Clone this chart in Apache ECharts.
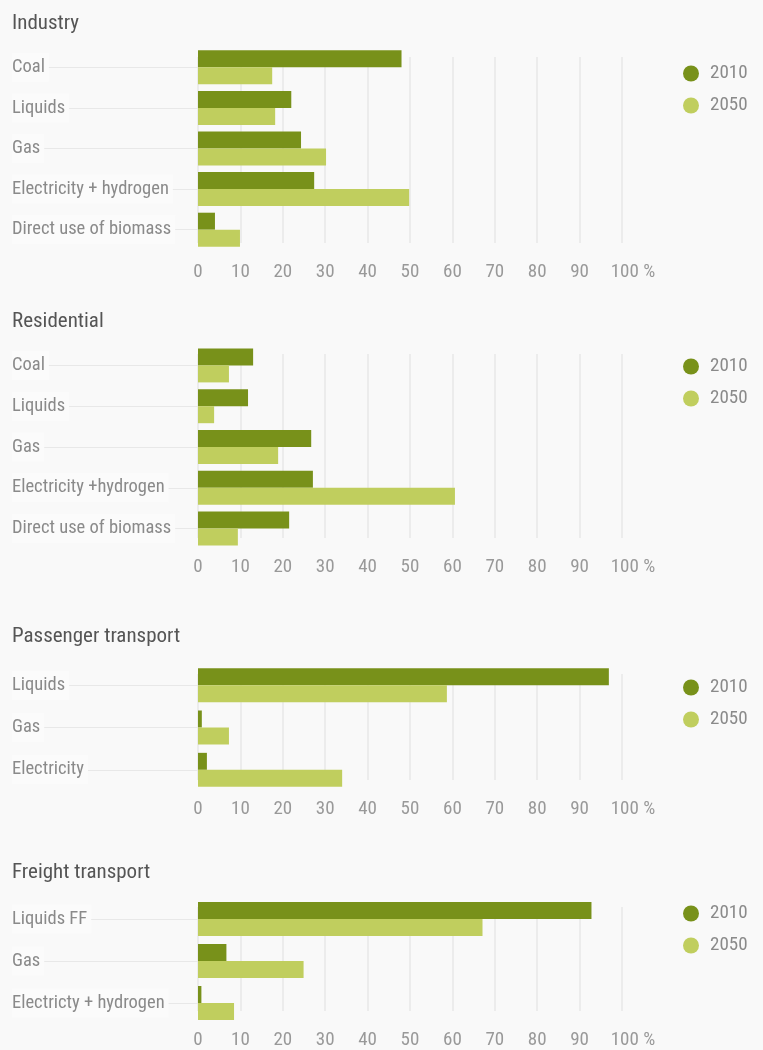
<!DOCTYPE html>
<html>
<head>
<meta charset="utf-8">
<script src="https://cdn.jsdelivr.net/npm/echarts@6/dist/echarts.min.js"></script>
<style>
html,body{margin:0;padding:0;background:#f9f9f9;}
#chart{width:763px;height:1050px;}
</style>
</head>
<body>
<div id="chart"></div>
<script>
const seriesNames = ['2010', '2050'];
const panelTitles = ['Industry', 'Residential', 'Passenger transport', 'Freight transport'];

const industryCats = ['Coal', 'Liquids', 'Gas', 'Electricity + hydrogen', 'Direct use of biomass'];
const industry2010 = [48, 22, 24.3, 27.4, 4];
const industry2050 = [17.5, 18.2, 30.2, 49.8, 9.9];

const residentialCats = ['Coal', 'Liquids', 'Gas', 'Electricity +hydrogen', 'Direct use of biomass'];
const residential2010 = [13, 11.8, 26.7, 27.1, 21.5];
const residential2050 = [7.3, 3.8, 18.9, 60.6, 9.4];

const passengerCats = ['Liquids', 'Gas', 'Electricity'];
const passenger2010 = [96.9, 0.9, 2.1];
const passenger2050 = [58.7, 7.3, 34];

const freightCats = ['Liquids FF', 'Gas', 'Electricty + hydrogen'];
const freight2010 = [92.8, 6.7, 0.8];
const freight2050 = [67.1, 24.9, 8.5];

const xMin = 0, xMax = 100, xStep = 10;

const panelData = [
  {cats: industryCats, a: industry2010, b: industry2050},
  {cats: residentialCats, a: residential2010, b: residential2050},
  {cats: passengerCats, a: passenger2010, b: passenger2050},
  {cats: freightCats, a: freight2010, b: freight2050}
];

// layout (pixels)
const layout = [
  {titleTop: 13, barTop: 47, barH: 203, lineTop: 57, lineH: 186, legendTop: 59},
  {titleTop: 311, barTop: 345, barH: 204, lineTop: 354, lineH: 184, legendTop: 352},
  {titleTop: 626, barTop: 664, barH: 127, lineTop: 674, lineH: 106, legendTop: 673},
  {titleTop: 862, barTop: 898, barH: 126, lineTop: 907, lineH: 110, legendTop: 899}
];

const FONT = "'Roboto Condensed','Liberation Sans Narrow','Arial Narrow','DejaVu Sans Condensed',sans-serif";
const DARK = '#78911a';
const LIGHT = '#c0ce5e';
const GRID_LEFT = 198, GRID_W = 424;

const option = {
  backgroundColor: '#f9f9f9',
  textStyle: {fontFamily: FONT},
  animation: false,
  title: [], legend: [], grid: [], xAxis: [], yAxis: [], series: []
};

panelData.forEach((p, i) => {
  const L = layout[i];
  option.title.push({
    text: panelTitles[i], left: 12, top: L.titleTop, padding: 0,
    textStyle: {fontFamily: FONT, fontSize: 21, fontWeight: 'normal', color: '#555'}
  });
  option.legend.push({
    data: seriesNames, orient: 'vertical', left: 678, top: L.legendTop,
    icon: 'circle', itemWidth: 28, itemHeight: 16, itemGap: 13, selectedMode: false,
    textStyle: {fontFamily: FONT, fontSize: 19, color: '#8a8a8a', lineHeight: 16}
  });
  const gb = option.grid.length;
  option.grid.push({left: GRID_LEFT, width: GRID_W, top: L.barTop, height: L.barH});
  const gl = option.grid.length;
  option.grid.push({left: GRID_LEFT, width: GRID_W, top: L.lineTop, height: L.lineH});

  const xb = option.xAxis.length;
  option.xAxis.push({
    gridIndex: gb, type: 'value', min: xMin, max: xMax, interval: xStep,
    axisLine: {show: false}, axisTick: {show: false}, axisLabel: {show: false}, splitLine: {show: false}
  });
  option.xAxis.push({
    gridIndex: gl, type: 'value', min: xMin, max: xMax, interval: xStep,
    axisLine: {show: false}, axisTick: {show: false},
    splitLine: {show: true, lineStyle: {color: '#e7e7e7', width: 1.5}},
    axisLabel: {
      margin: 20, fontFamily: FONT, fontSize: 19, color: '#999',
      formatter: v => v === xMax ? '{p|' + v + ' %}' : String(v),
      rich: {p: {fontFamily: FONT, fontSize: 19, color: '#999', padding: [0, 0, 0, 22]}}
    }
  });
  const yb = option.yAxis.length;
  option.yAxis.push({
    gridIndex: gb, type: 'category', inverse: true, data: p.cats,
    axisLine: {show: false},
    axisTick: {show: true, alignWithLabel: true, length: 186, lineStyle: {color: '#e8e8e8', width: 1}},
    axisLabel: {
      align: 'left', margin: 186, fontFamily: FONT, fontSize: 18.5, color: '#8a8a8a',
      backgroundColor: '#fbfbfb', padding: [0, 4, 10, 0]
    },
    splitLine: {show: false}
  });
  option.yAxis.push({gridIndex: gl, type: 'value', show: false, min: 0, max: 1});

  option.series.push({
    name: seriesNames[0], type: 'bar', xAxisIndex: xb, yAxisIndex: yb, data: p.a,
    barWidth: 17, barGap: '0%', itemStyle: {color: DARK}, silent: true
  });
  option.series.push({
    name: seriesNames[1], type: 'bar', xAxisIndex: xb, yAxisIndex: yb, data: p.b,
    barWidth: 17, barGap: '0%', itemStyle: {color: LIGHT}, silent: true
  });
});

const chart = echarts.init(document.getElementById('chart'), null, {renderer: 'canvas'});
chart.setOption(option);
</script>
</body>
</html>
